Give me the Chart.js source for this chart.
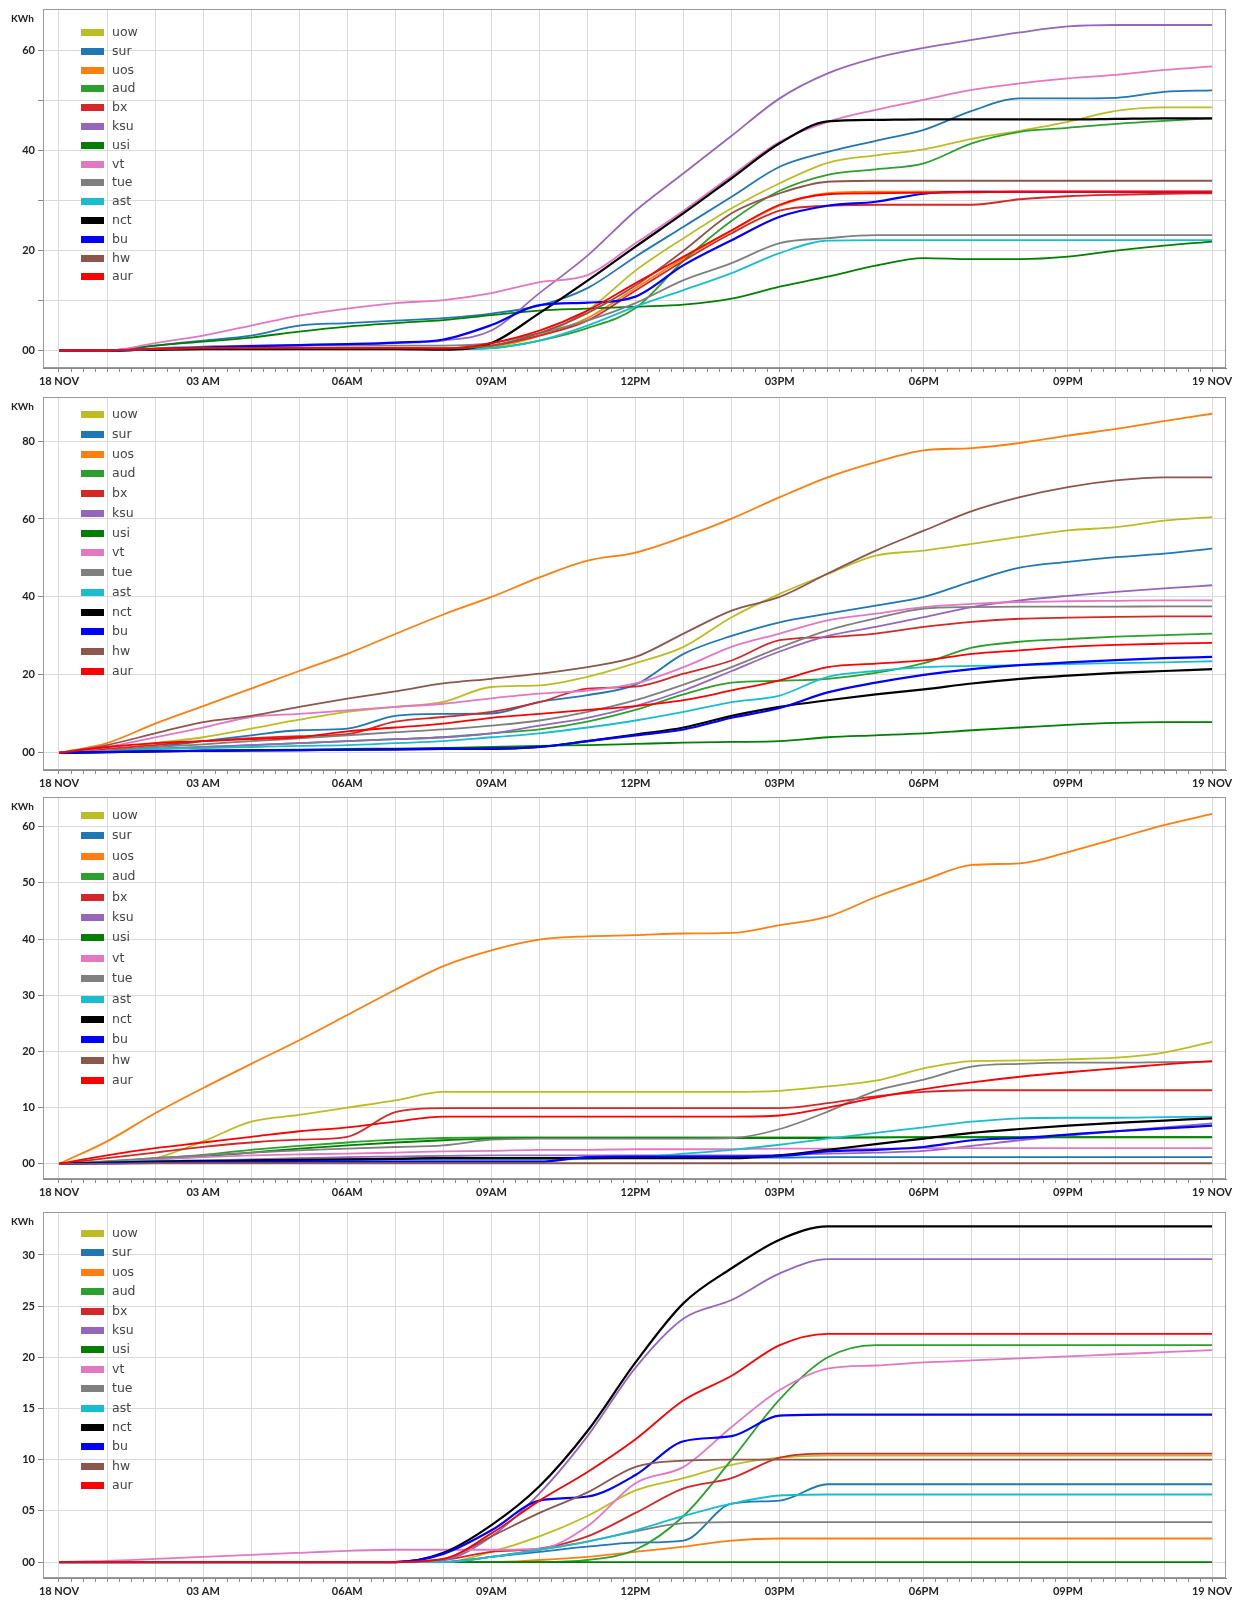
<!DOCTYPE html>
<html>
<head>
<meta charset="utf-8">
<script src="https://cdn.jsdelivr.net/npm/chart.js@4.4.0/dist/chart.umd.min.js"></script>
<style>
  body { margin: 0; background: #fff; width: 1253px; height: 1602px; position: relative; overflow: hidden; }
  .panel { position: absolute; left: 0; width: 1253px; }
  .unit { position: absolute; left: 11px; font: bold 10px Lato, sans-serif; color: #222; }
  .legend { position: absolute; left: 81px; width: 80px; }
  .legend .row { position: absolute; left: 0; height: 16px; width: 80px; }
  .legend .sw { position: absolute; left: 0; top: 5px; width: 23px; height: 7px; }
  .legend .tx { position: absolute; left: 31px; top: 0; font: 12.5px "DejaVu Sans", sans-serif; color: #444; line-height: 16px; }
</style>
</head>
<body>
<script>
// hourly readings, 18 Nov 00:00 -> 19 Nov 00:00
const hours = [0,1,2,3,4,5,6,7,8,9,10,11,12,13,14,15,16,17,18,19,20,21,22,23,24];

const seriesNames = ['uow','sur','uos','aud','bx','ksu','usi','vt','tue','ast','nct','bu','hw','aur'];
const seriesColors = ['#bcbd22','#1f77b4','#ff7f0e','#2ca02c','#d62728','#9467bd','#008000','#e377c2','#7f7f7f','#17becf','#000000','#0000ff','#8c564b','#ff0000'];

const xLabelHours = [0,3,6,9,12,15,18,21,24];
const xLabels = ['18 NOV','03 AM','06AM','09AM','12PM','03PM','06PM','09PM','19 NOV'];

// panel 1
const p1Uow = [0,0,0.3,0.5,0.5,0.5,0.5,0.5,0.5,0.8,3,8,16,22.5,28.5,33.5,37.6,39.1,40.3,42.4,44,45.8,48,48.7,48.7];
const p1Sur = [0,0,1,2,3,5,5.5,6,6.5,7.4,9,12.5,18.8,24.8,30.8,36.8,39.8,42,44.2,48,50.5,50.5,50.6,51.8,52.1];
const p1Uos = [0,0,0.3,0.5,0.5,0.5,0.5,0.5,0.5,1,3,6.5,12.5,18.5,24,29,31.5,31.8,31.8,31.8,31.8,31.8,31.8,31.8,31.8];
const p1Aud = [0,0,0.2,0.3,0.3,0.3,0.3,0.3,0.3,0.5,2,4.5,8.5,18,26,32,35.2,36.3,37.5,41.5,43.8,44.6,45.4,46,46.5];
const p1Bx  = [0,0,0.3,0.5,0.5,0.5,0.5,0.5,0.5,1,3,6,12,18,23.5,28,29,29.2,29.2,29.2,30.3,30.9,31.2,31.4,31.5];
const p1Ksu = [0,0,0.2,0.5,0.8,1,1.2,1.5,2,4,11.5,19,28,35.5,43,50.5,55.5,58.6,60.6,62.2,63.7,64.9,65.2,65.2,65.2];
const p1Usi = [0,0,1,1.8,2.6,3.8,4.8,5.5,6.1,7.1,8,8.4,8.8,9.2,10.4,12.8,14.8,17,18.5,18.3,18.3,18.8,20,21,21.8];
const p1Vt  = [0,0,1.5,3,5,7,8.4,9.5,10.1,11.5,13.7,15.1,21.5,28,35,41.8,45.8,48.2,50.2,52.2,53.5,54.5,55.2,56.2,56.9];
const p1Tue = [0,0,0.5,0.8,1,1,1,1,1,1.5,3.5,6,9.5,14.1,17.5,21.5,22.5,23.1,23.1,23.1,23.1,23.1,23.1,23.1,23.1];
const p1Ast = [0,0,0.2,0.3,0.3,0.3,0.3,0.3,0.3,0.5,2,5,8.8,12.1,15.5,19.5,22,22.1,22.1,22.1,22.1,22.1,22.1,22.1,22.1];
const p1Nct = [0,0,0.2,0.3,0.3,0.3,0.3,0.3,0.2,1.5,7.5,14,20.8,27.5,34.5,41.5,45.9,46.2,46.3,46.3,46.3,46.3,46.4,46.5,46.5];
const p1Bu  = [0,0,0.3,0.6,0.9,1.1,1.3,1.6,2.2,5.1,9.1,9.6,10.8,17.1,22.1,26.8,29,29.8,31.4,31.8,31.8,31.8,31.8,31.8,31.8];
const p1Hw  = [0,0,0.3,0.5,0.5,0.5,0.5,0.5,0.5,1,3.5,7.5,13,20,27.5,31.5,33.8,34,34,34,34,34,34,34,34];
const p1Aur = [0,0,0.3,0.5,0.5,0.5,0.5,0.5,0.4,1.5,4,8,13.5,18.8,24.1,29.2,31.3,31.5,31.6,31.7,31.8,31.8,31.8,31.8,31.8];

// panel 2
const p2Uow = [0,0.5,2.5,4,6.2,8.5,10.5,11.8,13.1,16.9,17.3,19.5,23,27.2,34.8,40.8,45.9,50.6,51.9,53.6,55.4,57.1,57.9,59.6,60.5];
const p2Sur = [0,0.5,1.5,3,4.5,5.8,6.2,9.5,10,10.1,13.1,14.8,17.5,25.4,30,33.5,35.7,37.8,40,44,47.5,49,50.2,51.1,52.4];
const p2Uos = [0,2.5,7.5,12,16.5,21,25.4,30.5,35.5,40,45,49.3,51.4,55.4,60.1,65.6,70.7,74.6,77.6,78.2,79.5,81.4,83.1,85.1,87];
const p2Aud = [0,0.3,1,1.5,2,2.5,3,3.5,4,5,6,8,11,15,18,18.5,19,20.5,23,27,28.5,29.2,29.8,30.2,30.6];
const p2Bx  = [0,1,2,3,3.8,4.3,4.8,8,9.2,10.5,13,16.5,17,20.3,23.7,28.9,29.7,30.6,32.3,33.6,34.4,34.7,34.9,35,35];
const p2Ksu = [0,0.5,1,1.5,2,2.5,3,3.5,4,5,7,9,12,16,21,26,30,32.3,34.8,37.4,39.1,40.3,41.3,42.2,43];
const p2Usi = [0,0.2,0.5,0.6,0.7,0.8,1,1.1,1.3,1.5,1.8,2,2.3,2.6,2.8,3,4,4.5,5,5.8,6.5,7.2,7.7,7.9,7.9];
const p2Vt  = [0,1.5,4,6.5,9.2,10,10.9,11.8,12.6,14,15.2,16,17.8,22,27.2,30.6,34,35.7,37.4,38.2,38.7,38.9,39,39.1,39.1];
const p2Tue = [0,0.5,1.5,2.2,3,3.7,4.5,5.3,6,7,8.3,10.5,13.5,17.5,22,27,31.4,34.5,37,37.4,37.5,37.5,37.5,37.6,37.6];
const p2Ast = [0,0.3,1,1.2,1.5,1.8,2,2.5,3,4,5,6.5,8.3,10.5,13,14.7,19.5,21,22,22.3,22.5,22.8,23,23.2,23.5];
const p2Nct = [0,0.2,0.4,0.5,0.6,0.7,0.8,0.9,1,1,1.5,3,4.7,6.5,9.5,11.8,13.5,15,16.3,17.8,19,19.8,20.5,21,21.5];
const p2Bu  = [0,0.2,0.4,0.5,0.6,0.7,0.8,0.9,1,1.1,1.5,3,4.5,6,9,11.5,15.5,18,20,21.5,22.5,23.2,23.8,24.3,24.6];
const p2Hw  = [0,2,5,7.9,9.5,11.8,13.9,15.8,17.8,19,20.3,22,24.6,30.6,36.5,40,46,51.9,57,62,65.6,68.2,69.9,70.7,70.7];
const p2Aur = [0,1.5,2.5,3,3.5,4,5.5,6.5,7.5,9,10,11,12,13.5,16,18.6,22,22.9,23.7,25.4,26.3,27.2,27.7,28,28.2];

// panel 3
const p3Uow = [0,0.2,1,4,7.5,8.7,10,11.3,12.8,12.8,12.8,12.8,12.8,12.8,12.8,13,13.8,14.8,17,18.3,18.4,18.6,18.9,19.8,21.7];
const p3Sur = [0,0.2,0.4,0.5,0.6,0.7,0.8,0.9,1,1,1,1,1.1,1.1,1.1,1.1,1.2,1.2,1.2,1.2,1.2,1.2,1.2,1.2,1.2];
const p3Uos = [0,4,9,13.5,17.8,22,26.5,31,35.2,38,39.9,40.5,40.7,41,41.1,42.5,44,47.5,50.5,53.2,53.5,55.5,57.9,60.3,62.3];
const p3Aud = [0,0.4,1,1.6,2.5,3.2,3.8,4.3,4.6,4.7,4.7,4.7,4.7,4.7,4.7,4.7,4.7,4.7,4.8,4.8,4.8,4.8,4.8,4.8,4.8];
const p3Bx  = [0,1,2,3,3.8,4.3,4.8,9.2,9.9,9.9,9.9,9.9,9.9,9.9,9.9,9.9,10.8,12,12.8,13.1,13.1,13.1,13.1,13.1,13.1];
const p3Ksu = [0,0.2,0.4,0.6,0.8,1,1.2,1.3,1.4,1.5,1.5,1.5,1.5,1.5,1.5,1.6,1.8,2,2.3,3.2,4.2,5,5.8,6.5,7.2];
const p3Usi = [0,0.3,0.8,1.3,2,2.7,3.3,3.8,4.2,4.5,4.6,4.6,4.6,4.6,4.6,4.6,4.6,4.7,4.7,4.7,4.7,4.7,4.7,4.7,4.7];
const p3Vt  = [0,0.3,0.8,1.2,1.5,1.7,1.8,2,2.2,2.3,2.5,2.5,2.6,2.6,2.6,2.7,2.7,2.7,2.8,2.8,2.8,2.8,2.8,2.8,2.8];
const p3Tue = [0,0.5,1,1.5,2,2.4,2.7,3,3.3,4.3,4.5,4.5,4.5,4.5,4.6,6.2,9.3,13,15,17.3,17.8,18,18,18.1,18.2];
const p3Ast = [0,0.3,0.5,0.6,0.6,0.7,0.7,0.8,0.8,0.8,0.8,0.9,1.2,1.8,2.5,3.4,4.5,5.5,6.5,7.5,8.1,8.2,8.2,8.3,8.4];
const p3Nct = [0,0.2,0.4,0.5,0.6,0.7,0.8,0.9,1,1,1,1,1,1,1,1.5,2.5,3.5,4.5,5.5,6.2,6.8,7.3,7.7,8.1];
const p3Bu  = [0,0.1,0.2,0.3,0.3,0.4,0.4,0.4,0.4,0.4,0.4,1.2,1.3,1.3,1.3,1.4,2.2,2.5,3,4.2,4.6,5.2,5.8,6.3,6.8];
const p3Hw  = [0,0,0.1,0.1,0.1,0.1,0.1,0.1,0.1,0.1,0.1,0.1,0.1,0.1,0.1,0.1,0.1,0.1,0.1,0.1,0.1,0.1,0.1,0.1,0.1];
const p3Aur = [0,1.5,2.8,3.8,4.8,5.8,6.5,7.5,8.4,8.4,8.4,8.4,8.4,8.4,8.4,8.6,10,11.8,13.3,14.5,15.5,16.3,17,17.7,18.3];

// panel 4
const p4Uow = [0,0,0,0,0,0,0,0,0,1,2.5,4.5,7,8.2,9.5,10.2,10.4,10.4,10.4,10.4,10.4,10.4,10.4,10.4,10.4];
const p4Sur = [0,0,0,0,0,0,0,0,0,0.5,1,1.5,1.9,2.1,5.7,6,7.6,7.6,7.6,7.6,7.6,7.6,7.6,7.6,7.6];
const p4Uos = [0,0,0,0,0,0,0,0,0,0,0.2,0.5,1,1.5,2.1,2.3,2.3,2.3,2.3,2.3,2.3,2.3,2.3,2.3,2.3];
const p4Aud = [0,0,0,0,0,0,0,0,0,0,0,0.2,1.2,4.5,10,15.9,20,21.2,21.2,21.2,21.2,21.2,21.2,21.2,21.2];
const p4Bx  = [0,0,0,0,0,0,0,0,0.2,1,1.3,2.5,4.8,7.2,8.2,10.2,10.6,10.6,10.6,10.6,10.6,10.6,10.6,10.6,10.6];
const p4Ksu = [0,0,0,0,0,0,0,0,0.2,2.5,6.7,12.3,19,23.8,25.6,28.2,29.6,29.6,29.6,29.6,29.6,29.6,29.6,29.6,29.6];
const p4Usi = [0,0,0,0,0,0,0,0,0,0,0,0,0,0,0,0,0,0,0,0,0,0,0,0,0];
const p4Vt  = [0,0.1,0.3,0.5,0.7,0.9,1.1,1.2,1.2,1.2,1.3,3.5,7.7,9.3,13.2,16.8,18.9,19.2,19.5,19.7,19.9,20.1,20.3,20.5,20.7];
const p4Tue = [0,0,0,0,0,0,0,0,0,0.5,1.2,2,3,3.8,3.9,3.9,3.9,3.9,3.9,3.9,3.9,3.9,3.9,3.9,3.9];
const p4Ast = [0,0,0,0,0,0,0,0,0,0.5,1.2,2,3.1,4.5,5.7,6.5,6.6,6.6,6.6,6.6,6.6,6.6,6.6,6.6,6.6];
const p4Nct = [0,0,0,0,0,0,0,0,0.9,3.6,7.4,12.8,19.5,25.3,28.7,31.5,32.8,32.8,32.8,32.8,32.8,32.8,32.8,32.8,32.8];
const p4Bu  = [0,0,0,0,0,0,0,0,0.8,3.1,6,6.4,8.5,11.8,12.3,14.3,14.4,14.4,14.4,14.4,14.4,14.4,14.4,14.4,14.4];
const p4Hw  = [0,0,0,0,0,0,0,0,0.3,2.5,4.8,6.8,9.3,9.9,10,10,10,10,10,10,10,10,10,10,10];
const p4Aur = [0,0,0,0,0,0,0,0,0.3,2.8,6,8.8,12,15.8,18.2,21.2,22.3,22.3,22.3,22.3,22.3,22.3,22.3,22.3,22.3];

// layout of the four stacked plots (page pixels)
const panels = [
  { top: 9,    bottom: 368,  yMin: -3.5, yMax: 68.4, grid: 10, label: 20, legTop: 32,   legGap: 18.8,
    data: [p1Uow,p1Sur,p1Uos,p1Aud,p1Bx,p1Ksu,p1Usi,p1Vt,p1Tue,p1Ast,p1Nct,p1Bu,p1Hw,p1Aur] },
  { top: 397,  bottom: 770,  yMin: -4.4, yMax: 91.3, grid: 20, label: 20, legTop: 414,  legGap: 19.75,
    data: [p2Uow,p2Sur,p2Uos,p2Aud,p2Bx,p2Ksu,p2Usi,p2Vt,p2Tue,p2Ast,p2Nct,p2Bu,p2Hw,p2Aur] },
  { top: 797,  bottom: 1179, yMin: -2.7, yMax: 65.3, grid: 10, label: 10, legTop: 815,  legGap: 20.4,
    data: [p3Uow,p3Sur,p3Uos,p3Aud,p3Bx,p3Ksu,p3Usi,p3Vt,p3Tue,p3Ast,p3Nct,p3Bu,p3Hw,p3Aur] },
  { top: 1212, bottom: 1578, yMin: -1.56, yMax: 34.2, grid: 5, label: 5, legTop: 1233, legGap: 19.4,
    data: [p4Uow,p4Sur,p4Uos,p4Aud,p4Bx,p4Ksu,p4Usi,p4Vt,p4Tue,p4Ast,p4Nct,p4Bu,p4Hw,p4Aur] }
];

const xTickHours = [];
for (let q = 0; q <= 96; q++) xTickHours.push(q / 4);

const AXIS_H = 26;

const frame = {
  id: 'frame',
  afterDraw(chart) {
    const { ctx, chartArea: a } = chart;
    ctx.save();
    ctx.strokeStyle = '#9a9a9a';
    ctx.lineWidth = 1;
    ctx.strokeRect(Math.round(a.left) + 0.5, Math.round(a.top) + 0.5,
                   Math.round(a.right - a.left) - 1, Math.round(a.bottom - a.top) - 1);
    ctx.restore();
  }
};

function makePanel(cfg) {
  const box = document.createElement('div');
  box.className = 'panel';
  box.style.top = (cfg.top - 1) + 'px';
  box.style.height = (cfg.bottom - cfg.top + 1 + AXIS_H) + 'px';
  const canvas = document.createElement('canvas');
  box.appendChild(canvas);
  document.body.appendChild(box);

  const unit = document.createElement('div');
  unit.className = 'unit';
  unit.style.top = (cfg.top + 3) + 'px';
  unit.textContent = 'KWh';
  document.body.appendChild(unit);

  const leg = document.createElement('div');
  leg.className = 'legend';
  leg.style.top = (cfg.legTop - 8) + 'px';
  seriesNames.forEach((n, i) => {
    const row = document.createElement('div');
    row.className = 'row';
    row.style.top = (i * cfg.legGap) + 'px';
    row.innerHTML = `<span class="sw" style="background:${seriesColors[i]}"></span><span class="tx">${n}</span>`;
    leg.appendChild(row);
  });
  document.body.appendChild(leg);

  const yTicks = [];
  for (let v = 0; v <= cfg.yMax; v += cfg.grid) yTicks.push(v);

  new Chart(canvas.getContext('2d'), {
    type: 'line',
    data: {
      datasets: seriesNames.map((n, i) => ({
        label: n,
        data: hours.map((h, j) => ({ x: h, y: cfg.data[i][j] })),
        borderColor: seriesColors[i],
        backgroundColor: seriesColors[i],
        borderWidth: (n === 'nct' || n === 'bu') ? 2.2 : 1.8,
        order: -i,
        fill: false
      }))
    },
    options: {
      responsive: true,
      maintainAspectRatio: false,
      animation: false,
      layout: { padding: { top: 1, right: 27, left: 0, bottom: 0 } },
      plugins: { legend: { display: false }, tooltip: { enabled: false } },
      elements: { point: { radius: 0 }, line: { cubicInterpolationMode: 'monotone' } },
      scales: {
        x: {
          type: 'linear', min: -0.333, max: 24.29,
          afterBuildTicks: a => { a.ticks = xTickHours.map(v => ({ value: v })); },
          afterFit: a => { a.height = AXIS_H; a.paddingLeft = 0; a.paddingRight = 0; },
          grid: {
            color: c => (c.tick && Number.isInteger(c.tick.value)) ? '#dadada' : 'rgba(0,0,0,0)',
            tickColor: '#8a8a8a', tickLength: 4
          },
          border: { color: '#8a8a8a' },
          ticks: {
            autoSkip: false, maxRotation: 0, padding: 3, color: '#222',
            font: { family: 'Lato', weight: 'bold', size: 11 },
            callback: v => {
              const k = xLabelHours.findIndex(h => Math.abs(h - v) < 1e-6);
              return k < 0 ? '' : xLabels[k];
            }
          }
        },
        y: {
          min: cfg.yMin, max: cfg.yMax,
          afterBuildTicks: a => { a.ticks = yTicks.map(v => ({ value: v })); },
          afterFit: a => { a.width = 43; a.paddingTop = 0; a.paddingBottom = 0; },
          grid: { color: '#dadada', tickColor: '#8a8a8a', tickLength: 5 },
          border: { color: '#8a8a8a' },
          ticks: {
            padding: 3, color: '#222',
            font: { family: 'Lato', weight: 'bold', size: 11 },
            callback: v => (Math.round(v) % cfg.label === 0) ? String(Math.round(v)).padStart(2, '0') : ''
          }
        }
      }
    },
    plugins: [frame]
  });
}

panels.forEach(makePanel);
</script>
</body>
</html>
